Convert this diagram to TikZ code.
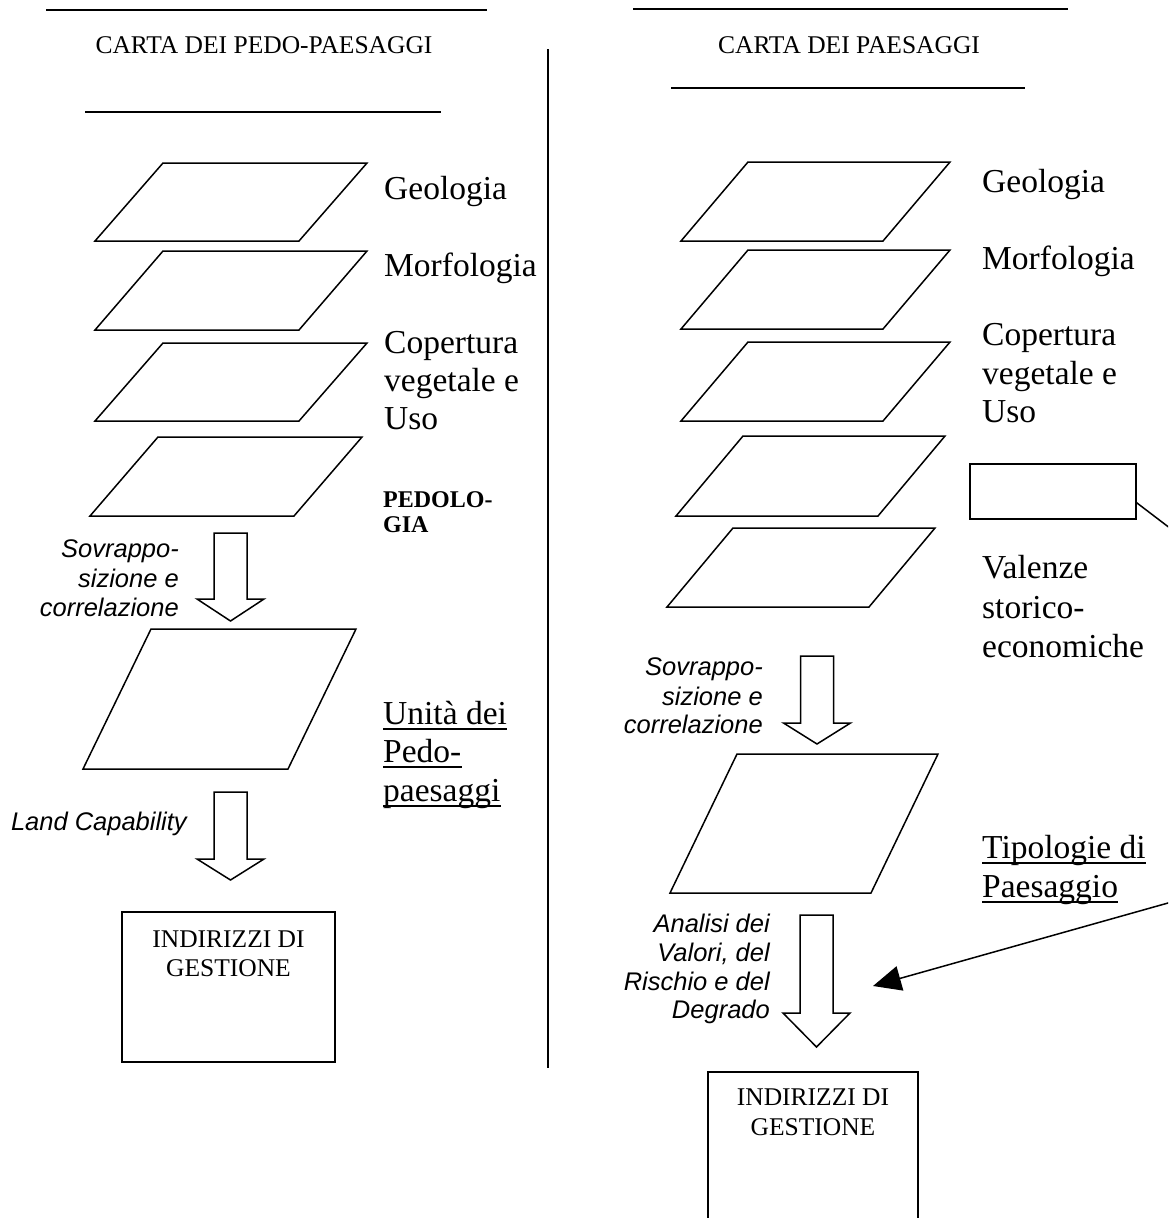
\documentclass[tikz,border=0pt]{standalone}
\usepackage{fontspec}
\setmainfont{Liberation Serif}
\newfontfamily\arialfont{Liberation Sans}
\usetikzlibrary{arrows.meta,calc}
\newcommand\parag[6]{%
  \draw[shp] (#2,#3) -- ({#2+#6},#3) -- ({#4+#6},#5) -- (#4,#5) -- cycle;
  \coordinate (#1) at ({(#2+#4+#6)/2},{(#3+#5)/2});}
\newcommand\blockarr[5]{%
  \draw[shp] ({#2-16.5},#3) -- ({#2+16.5},#3) -- ({#2+16.5},#4) -- ({#2+33.5},#4)
    -- (#2,#5) -- ({#2-33.5},#4) -- ({#2-16.5},#4) -- cycle;
  \coordinate (#1) at (#2,#5);}
\tikzset{
  shp/.style={draw, line width=1.5pt, line join=miter},
  rule/.style={line width=2.4pt},
  lbl/.style={inner sep=0pt, anchor=base west, font=\fontsize{33.5}{38.5}\selectfont},
  ttl/.style={inner sep=0pt, anchor=base, font=\fontsize{25.5}{29}\selectfont},
  itl/.style={inner sep=0pt, anchor=base east, font=\arialfont\itshape\fontsize{25.5}{29}\selectfont},
  bld/.style={inner sep=0pt, anchor=base west, font=\bfseries\fontsize{24}{26}\selectfont},
  ul/.style={line width=1.5pt},
  boxnode/.style={draw, line width=1.5pt, inner sep=0pt},
}
\newcommand\ulnode[3]{% name, position, text
  \node[lbl] (#1) at (#2) {#3};
  \draw[ul] ([yshift=-5pt]#1.base west) -- ([yshift=-5pt]#1.base east);}
\begin{document}
\begin{tikzpicture}[x=1pt,y=-1pt]
\useasboundingbox (0,0) rectangle (1168,1218);
\clip (0,0) rectangle (1168,1218);
\fill[white] (0,0) rectangle (1168,1218);

% ---------------- left column ----------------
\coordinate (lt1) at (46,10);   \coordinate (lt2) at (487,10);
\coordinate (ls1) at (85,112);  \coordinate (ls2) at (441,112);
\draw[rule] (lt1) -- (lt2);
\draw[rule] (ls1) -- (ls2);
\node[ttl] (ltitle) at (264,53) {CARTA DEI PEDO-PAESAGGI};

\parag{LP1}{95}{241}{163}{163}{204}
\parag{LP2}{95}{330}{163}{251}{204}
\parag{LP3}{95}{421}{163}{343}{204}
\parag{LP4}{90}{516}{158}{437}{204}
\parag{LP5}{83}{769}{151}{629}{205}

\node[lbl] (lgeo) at (384,199) {Geologia};
\node[lbl] (lmor) at (384,276) {Morfologia};
\node[lbl] (lcop1) at (384,353) {Copertura};
\node[lbl] (lcop2) at (384,391) {vegetale e};
\node[lbl] (lcop3) at (384,429) {Uso};
\node[bld] (lped1) at (383,507) {PEDOLO-};
\node[bld] (lped2) at (383,532) {GIA};

\blockarr{LA1}{230.5}{533}{599}{621}
\node[itl] (lsov1) at (179,557) {Sovrappo-};
\node[itl] (lsov2) at (179,587) {sizione e};
\node[itl] (lsov3) at (179,616) {correlazione};

\ulnode{lun1}{383,724}{Unità dei}
\ulnode{lun2}{383,762}{Pedo-}
\ulnode{lun3}{383,801}{paesaggi}

\blockarr{LA2}{230.5}{792}{859}{880}
\node[itl] (lland) at (187,830) {Land Capability};

\node[boxnode, minimum width=213pt, minimum height=150pt] (boxL) at (228.5,987) {};
\node[ttl] (boxL1) at (228.5,947) {INDIRIZZI DI};
\node[ttl] (boxL2) at (228.5,976) {GESTIONE};

% divider
\coordinate (dv1) at (548,49); \coordinate (dv2) at (548,1068);
\draw[line width=2pt] (dv1) -- (dv2);

% ---------------- right column ----------------
\coordinate (rt1) at (633,9);   \coordinate (rt2) at (1068,9);
\coordinate (rs1) at (671,88);  \coordinate (rs2) at (1025,88);
\draw[rule] (rt1) -- (rt2);
\draw[rule] (rs1) -- (rs2);
\node[ttl] (rtitle) at (849,53) {CARTA DEI PAESAGGI};

\parag{RP1}{681}{241}{748}{162}{202}
\parag{RP2}{681}{329}{748}{250}{202}
\parag{RP3}{681}{421}{748}{342}{202}
\parag{RP4}{676}{516}{743}{436}{202}
\parag{RP5}{667}{607}{733}{528}{202}
\parag{RP6}{670}{893}{737}{754}{201}

\node[lbl] (rgeo) at (982,192) {Geologia};
\node[lbl] (rmor) at (982,269) {Morfologia};
\node[lbl] (rcop1) at (982,345) {Copertura};
\node[lbl] (rcop2) at (982,384) {vegetale e};
\node[lbl] (rcop3) at (982,422) {Uso};

\node[boxnode, minimum width=166pt, minimum height=55pt] (valbox) at (1053,491.5) {};
\node[lbl] (rval1) at (982,578) {Valenze};
\node[lbl] (rval2) at (982,618) {storico-};
\node[lbl] (rval3) at (982,657) {economiche};

\blockarr{RA1}{817}{656}{723}{744}
\node[itl] (rsov1) at (763,675) {Sovrappo-};
\node[itl] (rsov2) at (763,705) {sizione e};
\node[itl] (rsov3) at (763,733) {correlazione};

\ulnode{rtip1}{982,858}{Tipologie di}
\ulnode{rtip2}{982,897}{Paesaggio}

\blockarr{RA2}{816.5}{915}{1013}{1047}
\node[itl] (ran1) at (770,932) {Analisi dei};
\node[itl] (ran2) at (770,961) {Valori, del};
\node[itl] (ran3) at (770,990) {Rischio e del};
\node[itl] (ran4) at (770,1018) {Degrado};

\node[boxnode, minimum width=210pt, minimum height=150pt] (boxR) at (813,1147) {};
\node[ttl] (boxR1) at (813,1105) {INDIRIZZI DI};
\node[ttl] (boxR2) at (813,1135) {GESTIONE};

% connector from the Valenze box to the analysis arrow (leaves the page)
\coordinate (vstart) at ($(valbox.south east)!0.3!(valbox.north east)$);
\coordinate (bendA) at (1200,551);
\coordinate (bendB) at (1200,894);
\coordinate (antip) at (873,986);
\draw[line width=1.5pt, -{Triangle[length=28pt,width=25pt]}]
  (vstart) -- (bendA) -- (bendB) -- (antip);
\end{tikzpicture}
\end{document}
